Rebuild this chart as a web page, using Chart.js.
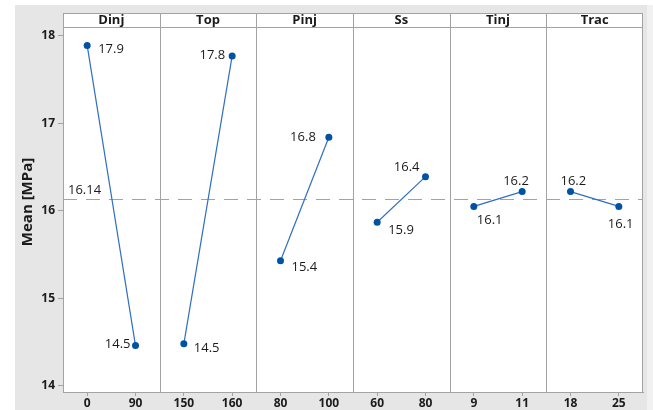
<!DOCTYPE html>
<html>
<head>
<meta charset="utf-8">
<script src="https://cdn.jsdelivr.net/npm/chart.js@4.4.1/dist/chart.umd.min.js"></script>
<style>
  html, body { margin: 0; padding: 0; background: #fff; }
  #wrap { width: 653px; height: 410px; }
</style>
</head>
<body>
<div id="wrap"><canvas id="mainEffects" width="653" height="410"></canvas></div>
<script>
// ===== Data =====
const factors = ['Dinj', 'Top', 'Pinj', 'Ss', 'Tinj', 'Trac'];
const levels = [['0', '90'], ['150', '160'], ['80', '100'], ['60', '80'], ['9', '11'], ['18', '25']];
const means = [
  [17.89, 14.46],
  [14.48, 17.77],
  [15.43, 16.84],
  [15.87, 16.39],
  [16.05, 16.22],
  [16.22, 16.05],
];
const grandMean = 16.14;
const yTicks = [14, 15, 16, 17, 18];

// label offsets from each point: [dx, dy, align]
const labelPlacement = [
  [[11, 4, 'left'], [-5, -1, 'right']],
  [[10, 4, 'left'], [-7, -1, 'right']],
  [[11, 7, 'left'], [-13, 0, 'right']],
  [[11, 8, 'left'], [-6, -9, 'right']],
  [[3, 14, 'left'], [-19, -10, 'left']],
  [[-10, -10, 'left'], [-11, 18, 'left']],
];

// ===== Styles =====
const FONT = "'Open Sans', sans-serif";
const frameColor = '#a3a3a3';
const textColor = '#1b1b1b';
const lineColor = '#2f6fc0';
const pointColor = '#0052a3';
const HEADER_H = 14;
const PANEL = 4; // x units per panel, levels sit at 1 and 3

const datasets = factors.map((f, i) => ({
  label: f,
  data: means[i].map((v, j) => ({ x: i * PANEL + 1 + j * 2, y: v })),
  borderColor: lineColor,
  borderWidth: 1.2,
  pointRadius: 3.5,
  pointBackgroundColor: pointColor,
  pointBorderWidth: 0,
  fill: false,
  tension: 0,
}));

const panelPlugin = {
  id: 'panels',
  beforeDraw(chart) {
    const { ctx, chartArea: a } = chart;
    ctx.save();
    ctx.fillStyle = '#ffffff';
    ctx.fillRect(0, 0, chart.width, chart.height);
    ctx.fillStyle = '#e6e6e6';
    ctx.fillRect(15, 5, 632, chart.height - 5);
    ctx.fillStyle = '#f1f1f1';
    ctx.fillRect(647, 5, chart.width - 647, chart.height - 5);
    ctx.fillStyle = '#ffffff';
    ctx.fillRect(a.left, a.top - HEADER_H, a.right - a.left, a.bottom - a.top + HEADER_H);

    // y axis title
    ctx.translate(28, 202);
    ctx.rotate(-Math.PI / 2);
    ctx.fillStyle = textColor;
    ctx.font = 'bold 15px ' + FONT;
    ctx.textAlign = 'center';
    ctx.textBaseline = 'middle';
    ctx.fillText('Mean [MPa]', 0, 0);
    ctx.restore();
  },
  beforeDatasetsDraw(chart) {
    const { ctx, chartArea: a, scales: { x, y } } = chart;
    ctx.save();
    ctx.strokeStyle = frameColor;
    ctx.lineWidth = 1;

    // grand mean reference line
    const gy = Math.round(y.getPixelForValue(grandMean)) + 0.5;
    ctx.setLineDash([14, 9]);
    ctx.beginPath();
    ctx.moveTo(a.left, gy);
    ctx.lineTo(a.right, gy);
    ctx.stroke();
    ctx.setLineDash([]);

    // frame, header strip and panel separators
    const top = a.top - HEADER_H;
    ctx.strokeRect(a.left + 0.5, top + 0.5, a.right - a.left - 1, a.bottom - top);
    ctx.beginPath();
    ctx.moveTo(a.left, a.top + 0.5);
    ctx.lineTo(a.right, a.top + 0.5);
    for (let i = 1; i < factors.length; i++) {
      const px = Math.round(x.getPixelForValue(i * PANEL)) + 0.5;
      ctx.moveTo(px, top);
      ctx.lineTo(px, a.bottom);
    }
    ctx.stroke();

    ctx.fillStyle = textColor;
    ctx.font = 'bold 13px ' + FONT;
    ctx.textAlign = 'center';
    ctx.textBaseline = 'middle';
    factors.forEach((f, i) => {
      ctx.fillText(f, x.getPixelForValue(i * PANEL + 2), top + HEADER_H / 2);
    });
    ctx.restore();
  },
  afterDatasetsDraw(chart) {
    const { ctx, chartArea: a, scales: { y } } = chart;
    ctx.save();
    ctx.fillStyle = textColor;
    ctx.font = '13px ' + FONT;
    ctx.textBaseline = 'middle';

    chart.data.datasets.forEach((ds, i) => {
      const meta = chart.getDatasetMeta(i);
      meta.data.forEach((pt, j) => {
        const [dx, dy, align] = labelPlacement[i][j];
        ctx.textAlign = align;
        ctx.fillText(ds.data[j].y.toFixed(1), pt.x + dx, pt.y + dy);
      });
    });

    ctx.textAlign = 'left';
    ctx.fillText(grandMean.toFixed(2), a.left + 5, y.getPixelForValue(grandMean) - 8);
    ctx.restore();
  }
};

new Chart(document.getElementById('mainEffects').getContext('2d'), {
  type: 'line',
  data: { datasets },
  options: {
    responsive: false,
    animation: false,
    layout: { padding: { top: 27, right: 10, bottom: 0, left: 0 } },
    plugins: {
      legend: { display: false },
      tooltip: { enabled: false },
    },
    scales: {
      x: {
        type: 'linear',
        min: 0,
        max: factors.length * PANEL,
        afterBuildTicks(scale) {
          const t = [];
          levels.forEach((pair, i) => pair.forEach((_, j) => t.push({ value: i * PANEL + 1 + j * 2 })));
          scale.ticks = t;
        },
        afterFit(scale) { scale.height = 18; },
        grid: { drawOnChartArea: false, drawTicks: true, tickLength: 4, color: frameColor },
        border: { display: true, color: frameColor },
        ticks: {
          autoSkip: false,
          maxRotation: 0,
          padding: 0,
          color: textColor,
          font: { family: FONT, size: 12, weight: 'bold' },
          callback(value) {
            const i = Math.floor(value / PANEL);
            const j = Math.round((value - i * PANEL - 1) / 2);
            return levels[i] ? levels[i][j] : '';
          }
        }
      },
      y: {
        min: 13.93,
        max: 18.10,
        afterBuildTicks(scale) { scale.ticks = yTicks.map(v => ({ value: v })); },
        afterFit(scale) { scale.width = 63; },
        grid: { drawOnChartArea: false, drawTicks: true, tickLength: 5, color: frameColor },
        border: { display: true, color: frameColor },
        ticks: {
          padding: 3,
          color: textColor,
          font: { family: FONT, size: 12, weight: 'bold' },
        }
      }
    }
  },
  plugins: [panelPlugin]
});
</script>
</body>
</html>
